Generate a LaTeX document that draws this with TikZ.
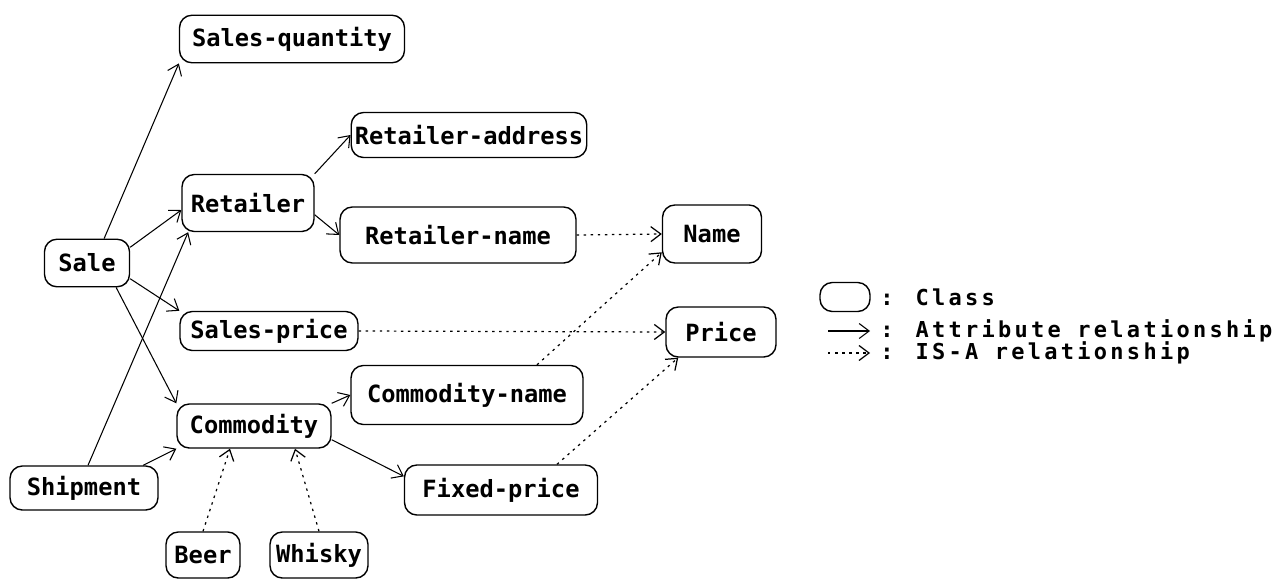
\documentclass[tikz,border=0pt]{standalone}
\usepackage{fontspec}
\setmonofont{DejaVu Sans Mono}
\newfontfamily\keyfont[LetterSpace=15]{DejaVu Sans Mono}
\usetikzlibrary{arrows.meta}

\begin{document}
\begin{tikzpicture}[x=0.02cm,y=-0.02cm,
  font=\ttfamily\bfseries\fontsize{13.5}{15}\selectfont,
  cls/.style={draw, line width=0.8pt, rounded corners=7pt, minimum height=0.95cm, inner sep=2pt},
  key/.style={anchor=west, inner sep=0pt, font=\keyfont\bfseries\fontsize{12.5}{14}\selectfont},
  attr/.style={-{Straight Barb[length=2mm,width=3mm]}, line width=0.6pt},
  isa/.style={-{Straight Barb[length=2mm,width=3mm]}, line width=0.7pt, dash pattern=on 1.4pt off 2.6pt}]
\useasboundingbox (0,0) rectangle (1284,578);
% classes
\node[cls, minimum width=4.5cm] (squant) at (292,39) {Sales-quantity};
\node[cls, minimum width=4.56cm, minimum height=0.9cm] (raddr) at (469,135) {Retailer-address};
\node[cls, minimum width=2.64cm, minimum height=1.14cm] (retailer) at (248,203) {Retailer};
\node[cls, minimum width=4.72cm, minimum height=1.12cm] (rname) at (458,235) {Retailer-name};
\node[cls, minimum width=1.98cm, minimum height=1.16cm] (name) at (712,234) {Name};
\node[cls, minimum width=1.7cm] (sale) at (87,263) {Sale};
\node[cls, minimum width=3.56cm, minimum height=0.78cm] (sprice) at (269,331) {Sales-price};
\node[cls, minimum width=2.2cm, minimum height=1.0cm] (price) at (721,332) {Price};
\node[cls, minimum width=4.64cm, minimum height=1.18cm] (cname) at (467,395) {Commodity-name};
\node[cls, minimum width=3.08cm, minimum height=0.88cm] (commodity) at (254,426) {Commodity};
\node[cls, minimum width=2.96cm, minimum height=0.88cm] (shipment) at (84,488) {Shipment};
\node[cls, minimum width=3.86cm, minimum height=1.0cm] (fprice) at (501,490) {Fixed-price};
\node[cls, minimum width=1.48cm, minimum height=0.92cm] (beer) at (203,555) {Beer};
\node[cls, minimum width=1.96cm, minimum height=0.92cm] (whisky) at (319,555) {Whisky};
% attribute links
\draw[attr] (sale.55) -- (squant.south west);
\draw[attr] (sale.20) -- (retailer.186);
\draw[attr] (sale.-20) -- (sprice.north west);
\draw[attr] (sale.-40) -- (commodity.north west);
\draw[attr] (shipment.80) -- (retailer.206);
\draw[attr] (shipment.21) -- (commodity.south west);
\draw[attr] (retailer.north east) -- (raddr.west);
\draw[attr] (retailer.-10) -- (rname.west);
\draw[attr] (commodity.north east) -- (cname.west);
\draw[attr] (commodity.-10) -- (fprice.172);
% is-a links
\draw[isa] (rname.east) -- (name.west);
\draw[isa] (sprice.east) -- (price.west);
\draw[isa] ([xshift=1.4cm]cname.north) -- (name.200);
\draw[isa] ([xshift=1.12cm]fprice.north) -- (price.211);
\draw[isa] (beer.north) -- ([xshift=-0.48cm]commodity.south);
\draw[isa] (whisky.north) -- ([xshift=0.82cm]commodity.south);
% legend
\node[cls, minimum width=1.0cm, minimum height=0.58cm] (keybox) at (845,297) {};
\node[key] (keycls) at (880,297) {: Class};
\coordinate (a1) at (828,331);
\coordinate (a2) at (870,331);
\node[key] (keyattr) at (880,331) {: Attribute relationship};
\coordinate (i1) at (828,353);
\coordinate (i2) at (870,353);
\node[key] (keyisa) at (880,353) {: IS-A relationship};
\draw[attr] (a1) -- (a2);
\draw[isa] (i1) -- (i2);
\end{tikzpicture}
\end{document}
